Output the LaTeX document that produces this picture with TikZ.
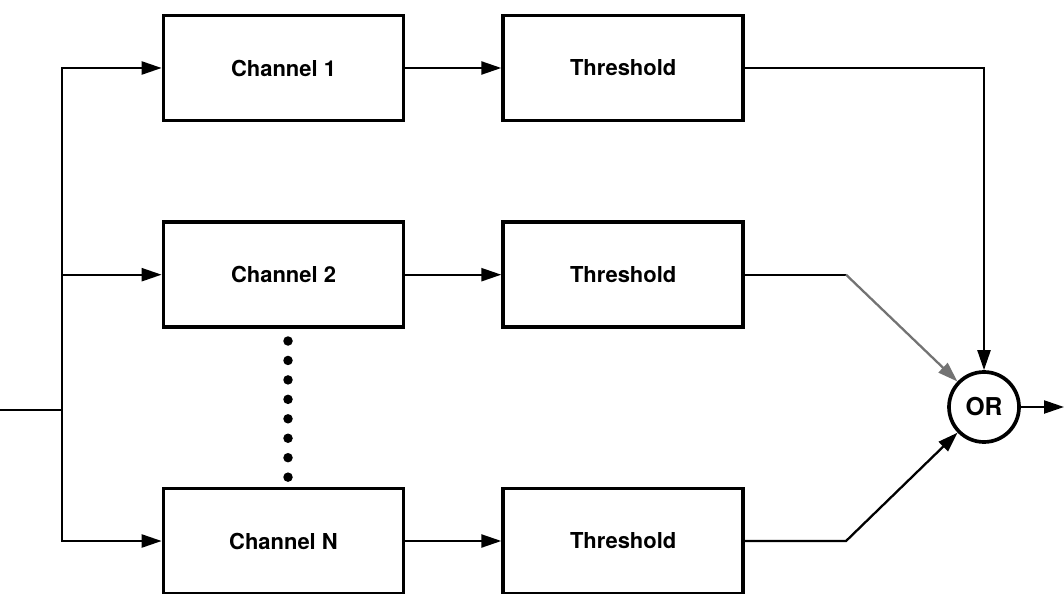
\documentclass[tikz,border=0pt]{standalone}
\usepackage{fontspec}
\setmainfont{TeX Gyre Heros}
\usetikzlibrary{positioning, arrows.meta}

\begin{document}
\begin{tikzpicture}[
    node distance=1.92cm,
    every node/.style={font=\fontsize{12.5}{15}\selectfont\bfseries},
    box/.style={
      draw, line width=2.1pt,
      minimum width=4.8cm, minimum height=2.1cm,
      align=center, inner sep=0pt,
    },
    gate/.style={
      draw, circle, line width=2.1pt,
      minimum size=1.4cm, inner sep=0pt,
      font=\fontsize{14}{16}\selectfont\bfseries,
    },
    wire/.style={line width=1.3pt},
    flow/.style={
      -{Triangle[length=4mm,width=2.6mm]}, line width=1.3pt,
    },
  ]
  \useasboundingbox (0,0) rectangle (21.28,11.86);

  \node[box] (ch1) at (5.67,10.5) {Channel 1};
  \node[box, right=of ch1] (th1) {Threshold};
  \node[box, below=1.96cm of ch1] (ch2) {Channel 2};
  \node[box, right=of ch2] (th2) {Threshold};
  \node[box] (chN) at (5.67,1.04) {Channel N};
  \node[box, right=of chN] (thN) {Threshold};
  \node[gate] (or) at (19.68,3.72) {OR};

  \coordinate (in) at (0,3.66);
  \coordinate (split) at (1.24,3.66);
  \coordinate[right=2.02cm of th2.east] (k2);
  \coordinate[right=2.02cm of thN.east] (kN);
  \coordinate (out) at (21.28,3.72);

  \draw[wire] (in) -- (split);
  \draw[flow] (split) |- (ch1);
  \draw[flow] (split) |- (chN);
  \draw[flow] (split |- ch2) -- (ch2);

  \draw[flow] (ch1) -- (th1);
  \draw[flow] (ch2) -- (th2);
  \draw[flow] (chN) -- (thN);

  \draw[flow] (th1) -| (or);
  \draw[wire] (th2) -- (k2);
  \draw[flow, draw=black!55] (k2) -- (or);
  \draw[flow] (thN) -- (kN) -- (or);
  \draw[flow] (or) -- (out);

  \foreach \k in {0,...,7}
    \fill (5.76,{5.04-0.389*\k}) circle (0.095);
\end{tikzpicture}
\end{document}
